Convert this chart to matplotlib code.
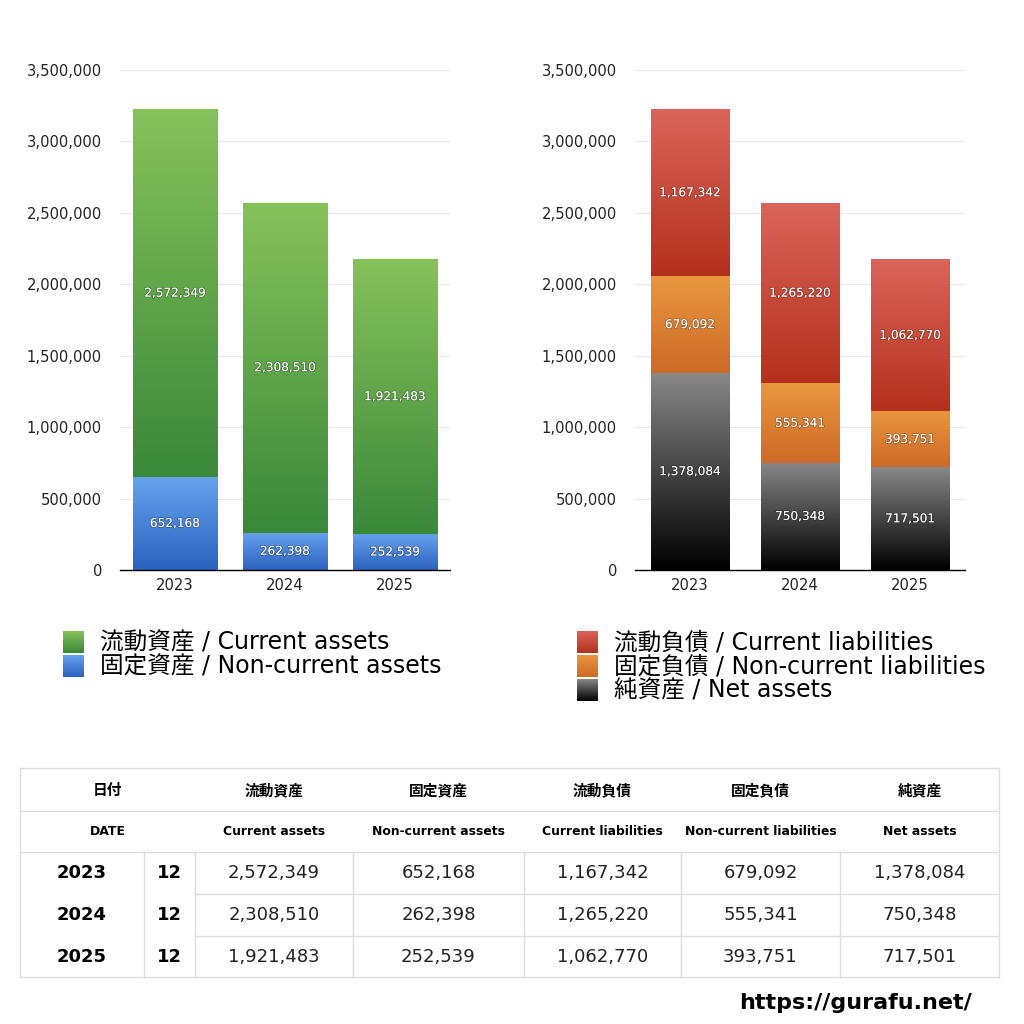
import numpy as np
import matplotlib.pyplot as plt
import matplotlib.patheffects as pe
from matplotlib.colors import LinearSegmentedColormap
from matplotlib.ticker import FuncFormatter

# ラテン文字は DejaVu、漢字は Noto CJK へフォールバック
plt.rcParams['font.family'] = ['DejaVu Sans', 'Noto Sans CJK JP']

# データ
years = ['2023', '2024', '2025']
months = ['12', '12', '12']
current_assets = [2572349, 2308510, 1921483]
noncurrent_assets = [652168, 262398, 252539]
current_liab = [1167342, 1265220, 1062770]
noncurrent_liab = [679092, 555341, 393751]
net_assets = [1378084, 750348, 717501]

labels_left = ['流動資産 / Current assets', '固定資産 / Non-current assets']
labels_right = ['流動負債 / Current liabilities', '固定負債 / Non-current liabilities', '純資産 / Net assets']
head_jp = ['日付', '流動資産', '固定資産', '流動負債', '固定負債', '純資産']
head_en = ['DATE', 'Current assets', 'Non-current assets', 'Current liabilities',
           'Non-current liabilities', 'Net assets']

# グラデーション (下, 上)
grad = {
    'green': ('#3a883a', '#86c25a'),
    'blue': ('#2c62bf', '#66a3ee'),
    'red': ('#b4301c', '#db655a'),
    'orange': ('#cd6a28', '#e9973f'),
    'black': ('#000000', '#888888'),
}
g = np.linspace(0, 1, 256).reshape(-1, 1)


def cmap_of(name):
    return LinearSegmentedColormap.from_list(name, grad[name])


def grad_bars(ax, x, vals, bottom, name, width):
    bars = ax.bar(x, vals, width, bottom=bottom, color='none', edgecolor='none')
    for b, v in zip(bars, vals):
        im = ax.imshow(g, cmap=cmap_of(name), origin='lower', aspect='auto',
                       extent=[b.get_x(), b.get_x() + b.get_width(), b.get_y(), b.get_y() + b.get_height()],
                       zorder=2)
        im.set_clip_path(b)
        ax.text(b.get_x() + b.get_width() / 2, b.get_y() + b.get_height() / 2, f'{v:,}',
                ha='center', va='center', color='white', fontsize=8.7, zorder=3,
                path_effects=[pe.Stroke(linewidth=1.1, foreground=(0, 0, 0, 0.3)), pe.Normal()])
    return bars


W = H = 1024
fig = plt.figure(figsize=(W / 100, H / 100), dpi=100)


def px_axes(x0, y0, x1, y1):
    return fig.add_axes([x0 / W, 1 - y1 / H, (x1 - x0) / W, (y1 - y0) / H])


def style(ax):
    ax.set_xlim(-0.5, 2.5)
    ax.set_ylim(0, 3500000)
    ax.set_yticks(np.arange(0, 3500001, 500000))
    ax.yaxis.set_major_formatter(FuncFormatter(lambda v, p: f'{int(v):,}'))
    ax.set_xticks(range(len(years)))
    ax.set_xticklabels(years)
    ax.tick_params(length=0, labelsize=10.6, colors='#222222')
    ax.tick_params(axis='y', pad=13)
    ax.tick_params(axis='x', pad=6)
    ax.grid(axis='y', color='#e8e8e8', lw=0.8, zorder=0)
    ax.set_axisbelow(True)
    for s in ['top', 'right', 'left']:
        ax.spines[s].set_visible(False)
    ax.spines['bottom'].set_color('black')
    ax.spines['bottom'].set_linewidth(1)
    ax.spines['bottom'].set_zorder(4)


x = np.arange(len(years))

ax1 = px_axes(120, 70, 450, 570)
grad_bars(ax1, x, noncurrent_assets, 0, 'blue', 0.764)
grad_bars(ax1, x, current_assets, noncurrent_assets, 'green', 0.764)
style(ax1)

ax2 = px_axes(635, 70, 965, 570)
grad_bars(ax2, x, net_assets, 0, 'black', 0.71)
b2 = np.array(net_assets)
grad_bars(ax2, x, noncurrent_liab, b2, 'orange', 0.71)
b3 = b2 + np.array(noncurrent_liab)
grad_bars(ax2, x, current_liab, b3, 'red', 0.71)
style(ax2)

# オーバーレイ (凡例・表)
ov = fig.add_axes([0, 0, 1, 1], facecolor='none')
ov.axis('off')


def legend(x0, y0, names, texts):
    for i, (n, t) in enumerate(zip(names, texts)):
        y = y0 + i * 24
        ov.imshow(g, cmap=cmap_of(n), origin='lower', aspect='auto',
                  extent=[x0, x0 + 21, y + 22, y])
        ov.text(x0 + 37, y + 12, t, fontsize=17, va='center', ha='left', color='black')


legend(63, 631, ['green', 'blue'], labels_left)
legend(577, 631, ['red', 'orange', 'black'], labels_right)
ov.set_xlim(0, W)
ov.set_ylim(H, 0)

# 表
lc = '#dddddd'
tx0, tx1 = 20, 999
ty = [768, 811, 852, 894, 936, 977]
cols = [20, 144, 195, 353, 524, 681, 840, 999]
for y in [ty[0], ty[1], ty[2], ty[5]]:
    ov.plot([tx0, tx1], [y, y], color=lc, lw=1)
for y in [ty[3], ty[4]]:
    ov.plot([cols[2], tx1], [y, y], color=lc, lw=1)
ov.plot([tx0, tx0], [ty[0], ty[5]], color=lc, lw=1)
ov.plot([tx1, tx1], [ty[0], ty[5]], color=lc, lw=1)
for cx in cols[1:-1]:
    ov.plot([cx, cx], [ty[2], ty[5]], color=lc, lw=1)

hc = [(cols[0] + cols[2]) / 2] + [(cols[i] + cols[i + 1]) / 2 for i in range(2, 7)]
for cx, t1, t2 in zip(hc, head_jp, head_en):
    ov.text(cx, (ty[0] + ty[1]) / 2 + 1, t1, ha='center', va='center', fontsize=10.6, fontweight='bold')
    ov.text(cx, (ty[1] + ty[2]) / 2, t2, ha='center', va='center', fontsize=8.9, fontweight='bold')

series = [current_assets, noncurrent_assets, current_liab, noncurrent_liab, net_assets]
for r in range(len(years)):
    yc = (ty[2 + r] + ty[3 + r]) / 2
    ov.text((cols[0] + cols[1]) / 2, yc, years[r], ha='center', va='center', fontsize=13, fontweight='bold')
    ov.text((cols[1] + cols[2]) / 2, yc, months[r], ha='center', va='center', fontsize=13, fontweight='bold')
    for j, s in enumerate(series):
        ov.text(hc[j + 1], yc, f'{s[r]:,}', ha='center', va='center', fontsize=13, color='#222222')

ov.text(972, 1003, 'https://gurafu.net/', ha='right', va='center', fontsize=16, fontweight='bold')
ov.set_xlim(0, W)
ov.set_ylim(H, 0)

fig.savefig('out.png', dpi=100, facecolor='white')
